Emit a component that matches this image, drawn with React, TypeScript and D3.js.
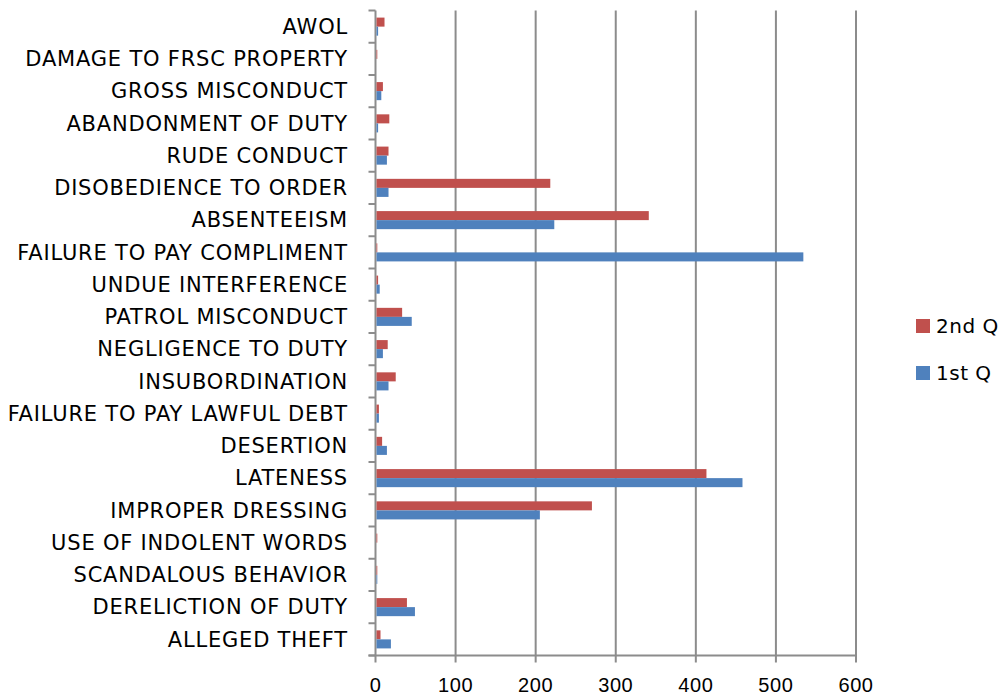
import * as d3 from "d3";

const categories = [
  "AWOL",
  "DAMAGE TO FRSC PROPERTY",
  "GROSS MISCONDUCT",
  "ABANDONMENT OF DUTY",
  "RUDE CONDUCT",
  "DISOBEDIENCE TO ORDER",
  "ABSENTEEISM",
  "FAILURE TO PAY COMPLIMENT",
  "UNDUE INTERFERENCE",
  "PATROL MISCONDUCT",
  "NEGLIGENCE TO DUTY",
  "INSUBORDINATION",
  "FAILURE TO PAY LAWFUL DEBT",
  "DESERTION",
  "LATENESS",
  "IMPROPER DRESSING",
  "USE OF INDOLENT WORDS",
  "SCANDALOUS BEHAVIOR",
  "DERELICTION OF DUTY",
  "ALLEGED THEFT",
];

const secondQ = [10, 1, 8, 16, 15, 217, 340, 1, 2, 32, 14, 24, 3, 7, 412, 269, 1, 1, 38, 5];
const firstQ = [2, 0, 6, 2, 13, 15, 222, 533, 4, 44, 8, 15, 3, 13, 457, 204, 0, 1, 48, 18];

const seriesNames = ["2nd Q", "1st Q"];
const seriesColors = ["#C0504D", "#4F81BD"];
const xTicks = [0, 100, 200, 300, 400, 500, 600];

const W = 1001;
const H = 698;
const left = 375.5;
const right = 856;
const top = 10.5;
const bottom = 655.5;

const labelFont = "'Comic Sans MS', 'DejaVu Sans', sans-serif";
const tickFont = "'Liberation Sans', Arial, sans-serif";

export default function App() {
  const x = d3.scaleLinear().domain([0, 600]).range([left, right]);
  const y = d3
    .scaleBand<string>()
    .domain(categories)
    .range([top, bottom])
    .paddingInner(0.44)
    .paddingOuter(0.22);
  const inner = d3.scaleBand<string>().domain(seriesNames).range([0, y.bandwidth()]);
  const step = y.step();
  const values = [secondQ, firstQ];

  // band boundaries for the category axis ticks
  const boundaries = d3.range(categories.length + 1).map((i) => top + i * step);

  return (
    <svg
      width={W}
      height={H}
      style={{ position: "absolute", left: 0, top: 0, background: "#fff" }}
    >
      {/* vertical gridlines */}
      {xTicks.map((t) => (
        <line
          key={"g" + t}
          x1={x(t)}
          x2={x(t)}
          y1={top}
          y2={bottom + 7}
          stroke="#8C8C8C"
          strokeWidth={2}
        />
      ))}
      {/* bottom axis line */}
      <line x1={left - 7} x2={right} y1={bottom} y2={bottom} stroke="#8C8C8C" strokeWidth={2} />
      {/* category ticks */}
      {boundaries.map((b, i) => (
        <line key={"t" + i} x1={left - 7} x2={left} y1={b} y2={b} stroke="#8C8C8C" strokeWidth={2} />
      ))}
      {/* bars */}
      {categories.map((c, i) =>
        seriesNames.map((s, k) => (
          <rect
            key={c + s}
            x={x(0) + 1}
            y={(y(c) ?? 0) + (inner(s) ?? 0)}
            width={Math.max(0, x(values[k][i]) - x(0))}
            height={inner.bandwidth()}
            fill={seriesColors[k]}
          />
        ))
      )}
      {/* category labels */}
      {categories.map((c) => (
        <text
          key={"l" + c}
          x={348}
          y={(y(c) ?? 0) + y.bandwidth() / 2}
          dy="0.35em"
          textAnchor="end"
          fontFamily={labelFont}
          fontSize={21}
          letterSpacing={0.8}
          fill="#000"
        >
          {c}
        </text>
      ))}
      {/* x tick labels */}
      {xTicks.map((t) => (
        <text
          key={"x" + t}
          x={x(t)}
          y={692}
          textAnchor="middle"
          fontFamily={tickFont}
          fontSize={20}
          letterSpacing={0.6}
          fill="#000"
        >
          {t}
        </text>
      ))}
      {/* legend */}
      {seriesNames.map((s, k) => (
        <g key={"leg" + s} transform={`translate(916,${319 + k * 47})`}>
          <rect width={14} height={14} fill={seriesColors[k]} />
          <text x={20} y={7} dy="0.35em" fontFamily={labelFont} fontSize={20} letterSpacing={0.5} fill="#000">
            {s}
          </text>
        </g>
      ))}
    </svg>
  );
}
